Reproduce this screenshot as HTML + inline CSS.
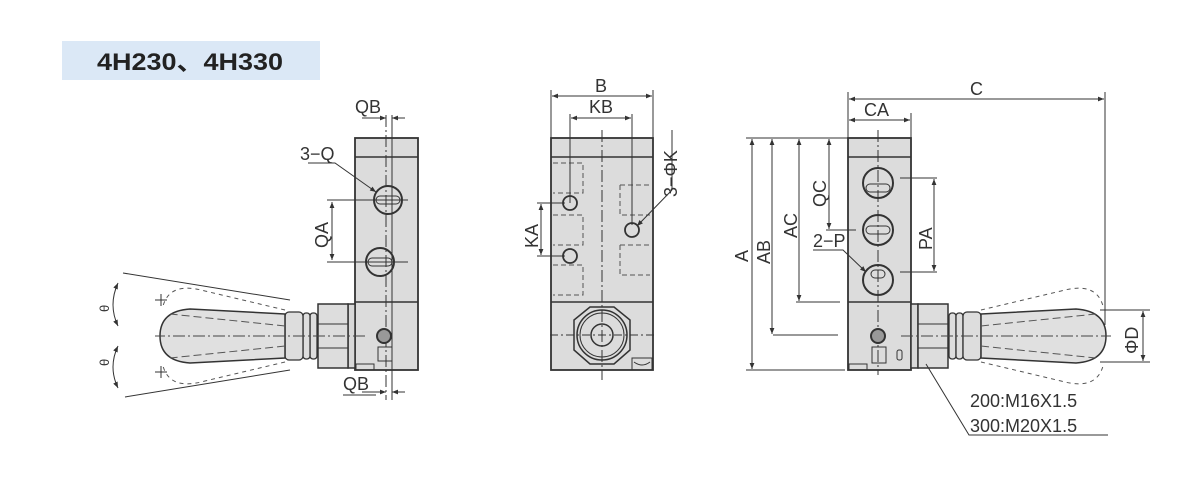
<!DOCTYPE html>
<html><head><meta charset="utf-8"><style>
html,body{margin:0;padding:0;background:#fff;width:1200px;height:500px;overflow:hidden}
svg{display:block}
text{font-family:"Liberation Sans",sans-serif;fill:#333}
</style></head><body>
<svg width="1200" height="500" viewBox="0 0 1200 500" xmlns="http://www.w3.org/2000/svg">
<defs>
<marker id="ar" viewBox="0 0 10 10" refX="10" refY="5" markerWidth="8" markerHeight="6" orient="auto-start-reverse"><path d="M0,1 L10,5 L0,9 z" fill="#333"/></marker>
<g id="handle">
  <rect x="0" y="-32" width="7" height="64" fill="#d8d8d8" stroke="#333" stroke-width="1.5"/>
  <rect x="7" y="-32" width="30" height="64" fill="#ddd" stroke="#333" stroke-width="1.5"/>
  <line x1="7" y1="-12" x2="37" y2="-12" stroke="#333"/>
  <line x1="7" y1="12" x2="37" y2="12" stroke="#333"/>
  <rect x="38" y="-23" width="7" height="46" rx="3" fill="#ddd" stroke="#333" stroke-width="1.3"/>
  <rect x="45" y="-23" width="7" height="46" rx="3" fill="#ddd" stroke="#333" stroke-width="1.3"/>
  <rect x="52" y="-24" width="18" height="48" rx="4" fill="#ddd" stroke="#333" stroke-width="1.3"/>
  <path d="M70,-22 L165,-27 Q195,-25 195,0 Q195,25 165,27 L70,22 Z" fill="#e0e0e0" stroke="#333" stroke-width="1.5"/>
  <path d="M70,-26 L150,-45 Q185,-55 192,-30" fill="none" stroke="#555" stroke-dasharray="4,4"/>
  <path d="M70,26 L150,45 Q185,55 192,30" fill="none" stroke="#555" stroke-dasharray="4,4"/>
  <path d="M70,-10 L185,-22 M70,10 L185,22" fill="none" stroke="#555" stroke-dasharray="8,4"/>
  <line x1="-10" y1="0" x2="200" y2="0" stroke="#444" stroke-dasharray="12,3,2,3"/>
</g>
</defs>

<rect x="62" y="41" width="258" height="39" fill="#dbe8f6"/>
<text x="97" y="70" font-size="24" font-weight="bold" textLength="186" lengthAdjust="spacingAndGlyphs" style="fill:#222;font-family:'Liberation Sans','Noto Sans CJK SC',sans-serif">4H230、4H330</text>

<g stroke="#333" fill="none" stroke-width="1">
<!-- LEFT VIEW -->
<rect x="355" y="138" width="63" height="232" fill="#dcdcdc" stroke-width="1.8"/>
<line x1="355" y1="157" x2="418" y2="157" stroke-width="1.5"/>
<line x1="355" y1="302" x2="418" y2="302" stroke-width="1.5"/>
<line x1="386" y1="115" x2="386" y2="400" stroke-dasharray="12,3,2,3"/>
<line x1="392" y1="115" x2="392" y2="400"/>
<circle cx="388" cy="200" r="14" stroke-width="2"/>
<rect x="376" y="196" width="24" height="8" rx="4"/>
<circle cx="380" cy="262" r="14" stroke-width="2"/>
<rect x="368" y="258" width="24" height="8" rx="4"/>
<circle cx="384" cy="336" r="7" stroke-width="2" fill="#999"/>
<rect x="378" y="347" width="14" height="14"/>
<path d="M356,370 v-6 h18 v6" />
<line x1="327" y1="200" x2="408" y2="200"/>
<line x1="327" y1="262" x2="408" y2="262"/>
<line x1="332" y1="202" x2="332" y2="260" marker-start="url(#ar)" marker-end="url(#ar)"/>
<line x1="362" y1="118" x2="386" y2="118" marker-end="url(#ar)"/>
<line x1="392" y1="118" x2="405" y2="118" marker-start="url(#ar)"/>
<line x1="362" y1="392" x2="386" y2="392" marker-end="url(#ar)"/>
<line x1="392" y1="392" x2="405" y2="392" marker-start="url(#ar)"/>
<line x1="343" y1="395" x2="376" y2="395"/>
<path d="M308,163 L335,163 L376,192" marker-end="url(#ar)"/>
<g transform="translate(355,336) scale(-1,1)"><use href="#handle"/></g>
<line x1="123" y1="273" x2="290" y2="300"/>
<line x1="125" y1="397" x2="290" y2="370"/>
<path d="M118,283 Q108,305 118,326" marker-start="url(#ar)" marker-end="url(#ar)"/>
<path d="M118,346 Q108,367 118,388" marker-start="url(#ar)" marker-end="url(#ar)"/>
<path d="M155,300 h12 M161,294 v12 M155,372 h12 M161,366 v12"/>

<!-- MIDDLE VIEW -->
<rect x="551" y="138" width="102" height="232" fill="#dcdcdc" stroke-width="1.8"/>
<line x1="551" y1="157" x2="653" y2="157" stroke-width="1.5"/>
<line x1="551" y1="302" x2="653" y2="302" stroke-width="1.5"/>
<line x1="602" y1="130" x2="602" y2="380" stroke-dasharray="12,3,2,3"/>
<g stroke="#555" stroke-dasharray="5,3">
<path d="M553,163 h30 v30 h-30"/><path d="M553,215 h30 v30 h-30"/><path d="M553,265 h30 v30 h-30"/>
<path d="M620,185 h30 M620,185 v30 h30"/><path d="M620,245 h30 M620,245 v30 h30"/>
</g>
<circle cx="570" cy="203" r="7" stroke-width="1.8"/>
<circle cx="570" cy="256" r="7" stroke-width="1.8"/>
<circle cx="632" cy="230" r="7" stroke-width="1.8"/>
<polygon points="590,307 614,307 630,320 630,350 614,364 590,364 574,350 574,320" stroke-width="1.5"/>
<circle cx="602" cy="335" r="25" stroke-width="1.5"/>
<circle cx="602" cy="335" r="22"/>
<circle cx="602" cy="335" r="11" stroke-width="1.5"/>
<line x1="550" y1="335" x2="655" y2="335" stroke-dasharray="8,3,2,3"/>
<path d="M632,370 v-12 h20 v12 M634,362 q8,6 16,0"/>
<line x1="551" y1="90" x2="551" y2="138"/><line x1="653" y1="90" x2="653" y2="138"/>
<line x1="552" y1="96" x2="652" y2="96" marker-start="url(#ar)" marker-end="url(#ar)"/>
<line x1="570" y1="114" x2="570" y2="203"/><line x1="632" y1="114" x2="632" y2="225"/>
<line x1="571" y1="118" x2="631" y2="118" marker-start="url(#ar)" marker-end="url(#ar)"/>
<line x1="537" y1="203" x2="565" y2="203"/><line x1="537" y1="256" x2="565" y2="256"/>
<line x1="541" y1="204" x2="541" y2="255" marker-start="url(#ar)" marker-end="url(#ar)"/>
<path d="M672,190 L637,226" marker-end="url(#ar)"/>
<line x1="672" y1="190" x2="672" y2="130"/>

<!-- RIGHT VIEW -->
<rect x="848" y="138" width="63" height="232" fill="#dcdcdc" stroke-width="1.8"/>
<line x1="848" y1="157" x2="911" y2="157" stroke-width="1.5"/>
<line x1="848" y1="302" x2="911" y2="302" stroke-width="1.5"/>
<line x1="878" y1="130" x2="878" y2="375" stroke-dasharray="12,3,2,3"/>
<circle cx="878" cy="183" r="15" stroke-width="2"/><rect x="866" y="184" width="24" height="8" rx="4"/>
<circle cx="878" cy="230" r="15" stroke-width="2"/><rect x="866" y="226" width="24" height="8" rx="4"/>
<circle cx="878" cy="280" r="15" stroke-width="2"/><rect x="871" y="270" width="14" height="8" rx="4"/>
<circle cx="878" cy="336" r="7" stroke-width="2" fill="#999"/>
<rect x="872" y="347" width="14" height="16"/><rect x="897" y="350" width="5" height="10" rx="2"/>
<path d="M849,370 v-6 h18 v6"/>
<g transform="translate(911,336)"><use href="#handle"/></g>
<line x1="848" y1="92" x2="848" y2="138"/><line x1="911" y1="113" x2="911" y2="138"/>
<line x1="1105" y1="92" x2="1105" y2="325"/>
<line x1="849" y1="99" x2="1104" y2="99" marker-start="url(#ar)" marker-end="url(#ar)"/>
<line x1="849" y1="120" x2="910" y2="120" marker-start="url(#ar)" marker-end="url(#ar)"/>
<line x1="746" y1="138" x2="848" y2="138"/>
<line x1="746" y1="370" x2="845" y2="370"/>
<line x1="773" y1="335" x2="838" y2="335"/>
<line x1="796" y1="302" x2="840" y2="302"/>
<line x1="826" y1="230" x2="856" y2="230"/>
<line x1="752" y1="139" x2="752" y2="369" marker-start="url(#ar)" marker-end="url(#ar)"/>
<line x1="772" y1="139" x2="772" y2="334" marker-start="url(#ar)" marker-end="url(#ar)"/>
<line x1="799" y1="139" x2="799" y2="301" marker-start="url(#ar)" marker-end="url(#ar)"/>
<line x1="829" y1="139" x2="829" y2="229" marker-start="url(#ar)" marker-end="url(#ar)"/>
<line x1="900" y1="178" x2="937" y2="178"/><line x1="900" y1="272" x2="937" y2="272"/>
<line x1="934" y1="179" x2="934" y2="271" marker-start="url(#ar)" marker-end="url(#ar)"/>
<path d="M813,250 L843,250 L866,272" marker-end="url(#ar)"/>
<line x1="1100" y1="310" x2="1150" y2="310"/><line x1="1100" y1="362" x2="1150" y2="362"/>
<line x1="1143" y1="311" x2="1143" y2="361" marker-start="url(#ar)" marker-end="url(#ar)"/>
<path d="M926,364 L969,435 L1108,435"/>
</g>

<g font-size="18">
<text x="355" y="113">QB</text>
<text x="343" y="390">QB</text>
<text x="300" y="160">3−Q</text>
<text transform="translate(328,248) rotate(-90)">QA</text>
<text transform="translate(109,312) rotate(-90)" font-size="13">θ</text>
<text transform="translate(109,366) rotate(-90)" font-size="13">θ</text>
<text x="595" y="92">B</text>
<text x="589" y="113">KB</text>
<text transform="translate(538,248) rotate(-90)">KA</text>
<text transform="translate(677,197) rotate(-90)">3−ΦK</text>
<text x="970" y="95">C</text>
<text x="864" y="116">CA</text>
<text transform="translate(748,262) rotate(-90)">A</text>
<text transform="translate(770,264) rotate(-90)">AB</text>
<text transform="translate(797,238) rotate(-90)">AC</text>
<text transform="translate(826,207) rotate(-90)">QC</text>
<text transform="translate(932,250) rotate(-90)">PA</text>
<text x="813" y="247">2−P</text>
<text transform="translate(1138,354) rotate(-90)">ΦD</text>
<text x="970" y="407">200:M16X1.5</text>
<text x="970" y="432">300:M20X1.5</text>
</g>
</svg>
</body></html>
